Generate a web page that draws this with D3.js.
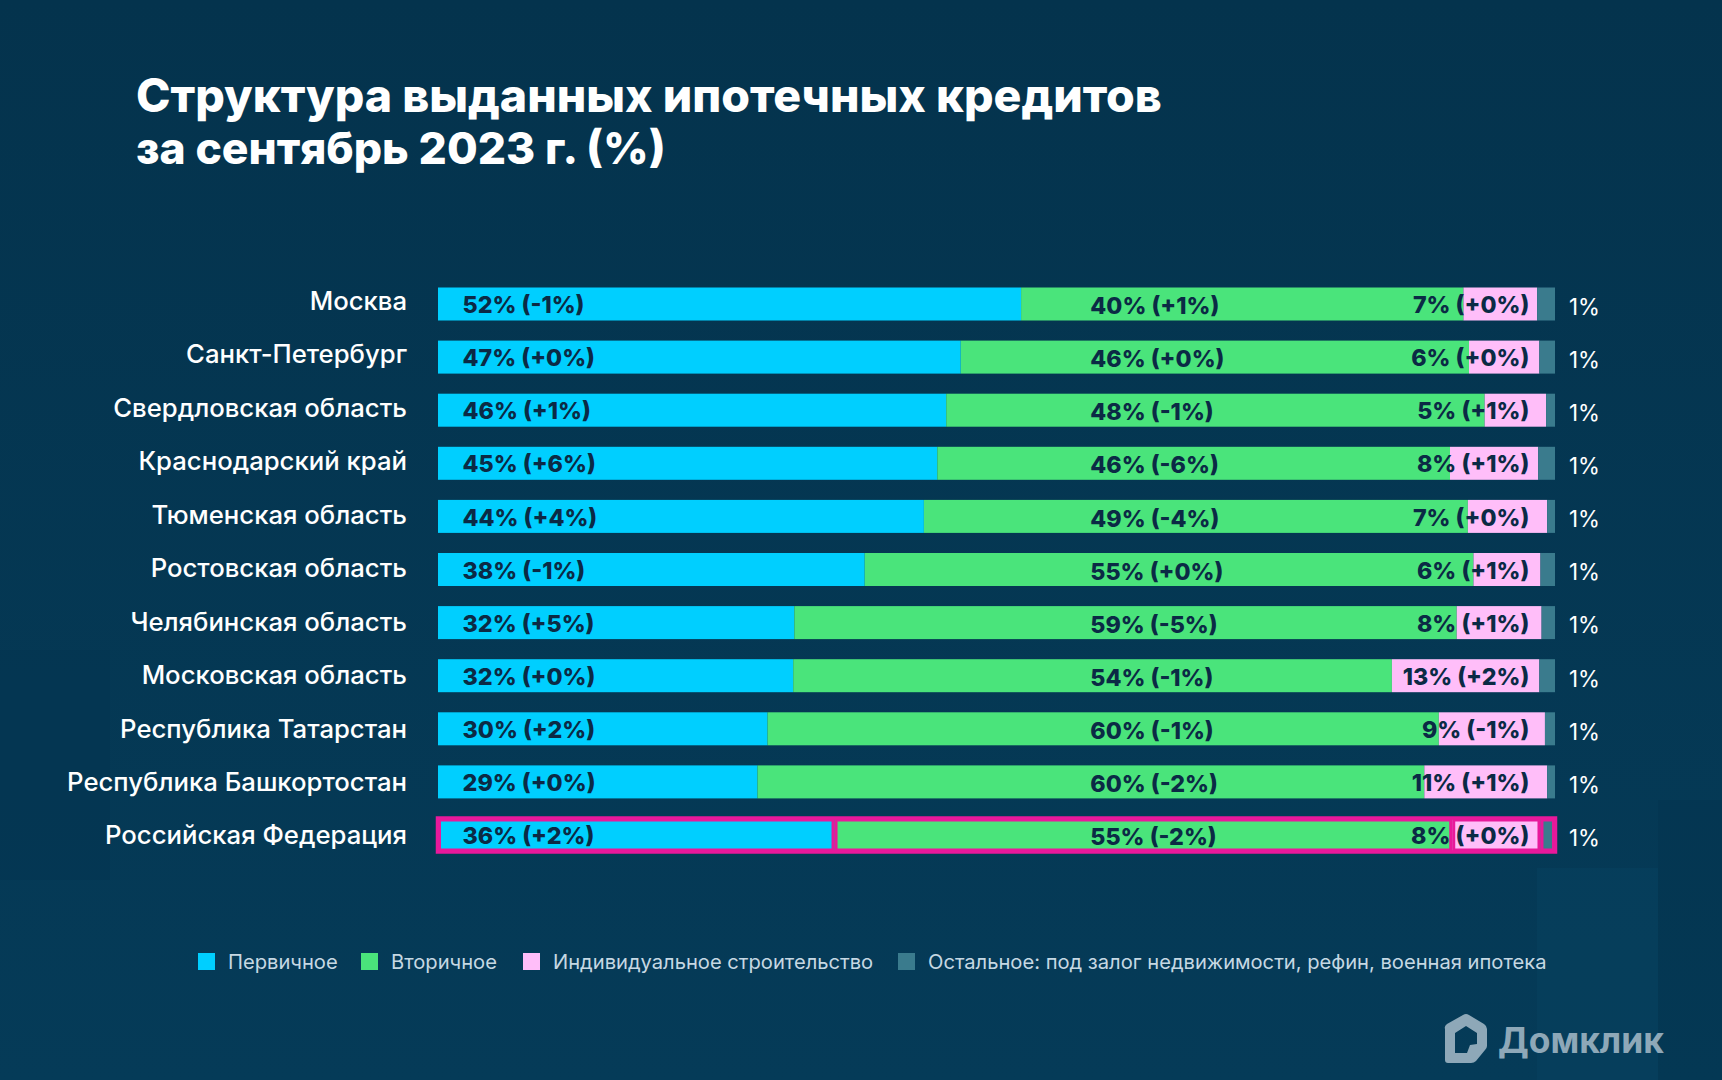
<!DOCTYPE html>
<html>
<head>
<meta charset="utf-8">
<script src="https://cdn.jsdelivr.net/npm/d3@7"></script>
<style>
  html, body { margin: 0; padding: 0; background: #053752; }
  svg { display: block; }
  text { font-family: Inter, "Open Sans", "DejaVu Sans", sans-serif; }
</style>
</head>
<body>
<svg id="chart" width="1722" height="1080"></svg>
<script>
// ---------- DATA ----------
const categories = [
  "Москва", "Санкт-Петербург", "Свердловская область", "Краснодарский край",
  "Тюменская область", "Ростовская область", "Челябинская область",
  "Московская область", "Республика Татарстан", "Республика Башкортостан",
  "Российская Федерация"
];
// shares (%)
const primary    = [52.2, 46.8, 45.5, 44.7, 43.5, 38.2, 31.9, 31.8, 29.5, 28.6, 35.5];
const secondary  = [39.6, 45.5, 48.2, 45.9, 48.7, 54.5, 59.3, 53.6, 60.1, 59.7, 55.3];
const individual = [6.6, 6.3, 5.5, 7.9, 7.1, 6.0, 7.6, 13.2, 9.5, 11.0, 7.9];
const other      = [1.6, 1.4, 0.8, 1.5, 0.7, 1.3, 1.2, 1.4, 0.9, 0.7, 1.3];
// displayed (rounded) values and changes
const primaryShown    = [52, 47, 46, 45, 44, 38, 32, 32, 30, 29, 36];
const primaryChange   = ["-1", "+0", "+1", "+6", "+4", "-1", "+5", "+0", "+2", "+0", "+2"];
const secondaryShown  = [40, 46, 48, 46, 49, 55, 59, 54, 60, 60, 55];
const secondaryChange = ["+1", "+0", "-1", "-6", "-4", "+0", "-5", "-1", "-1", "-2", "-2"];
const individualShown = [7, 6, 5, 8, 7, 6, 8, 13, 9, 11, 8];
const individualChange= ["+0", "+0", "+1", "+1", "+0", "+1", "+1", "+2", "-1", "+1", "+0"];
const otherShown      = [1, 1, 1, 1, 1, 1, 1, 1, 1, 1, 1];
const seriesKeys  = ["primary", "secondary", "individual", "other"];
const legendLabels = ["Первичное", "Вторичное", "Индивидуальное строительство",
  "Остальное: под залог недвижимости, рефин, военная ипотека"];
const titleLines = ["Структура выданных ипотечных кредитов", "за сентябрь 2023 г. (%)"];
const highlighted = "Российская Федерация";

// ---------- STYLE ----------
const colors = { primary: "#00cfff", secondary: "#4ae47b", individual: "#ffbef9", other: "#3a7b8d" };
const darkText = "#0b2a45";
const svg = d3.select("#chart");
const W = 1722, H = 1080;

// background
const defs = svg.append("defs");
const bg = defs.append("linearGradient").attr("id", "bg").attr("x1", 0).attr("y1", 0).attr("x2", 0).attr("y2", 1);
bg.append("stop").attr("offset", "0%").attr("stop-color", "#04334d");
bg.append("stop").attr("offset", "100%").attr("stop-color", "#053b58");
svg.append("rect").attr("width", W).attr("height", H).attr("fill", "url(#bg)");
// faint decorative background shapes
const deco = svg.append("g").attr("opacity", 0.25);
deco.append("rect").attr("x", 0).attr("y", 650).attr("width", 110).attr("height", 230).attr("fill", "#03304a");
deco.append("rect").attr("x", 1537).attr("y", 868).attr("width", 121).attr("height", 212).attr("fill", "#0b4a6a");
deco.append("rect").attr("x", 1658).attr("y", 800).attr("width", 64).attr("height", 280).attr("fill", "#03304a");

// helper: fit font-size so text reaches target width
function fitSize(family, weight, str, target, base) {
  const t = svg.append("text").attr("font-family", family).attr("font-weight", weight)
    .attr("font-size", base).text(str);
  const w = t.node().getComputedTextLength();
  t.remove();
  return base * target / w;
}
const FAM = "Inter";

// ---------- TITLE ----------
const titleTargets = [1026, 530];
svg.append("g").selectAll("text").data(titleLines).join("text")
  .attr("x", 136).attr("y", (d, i) => 112 + i * 52)
  .attr("fill", "#ffffff").attr("font-weight", 800)
  .attr("font-size", (d, i) => fitSize(FAM, 800, d, titleTargets[i], 46))
  .text(d => d);

// ---------- SCALES ----------
const x = d3.scaleLinear().domain([0, 100]).range([438, 1555]);
const y = d3.scalePoint().domain(categories).range([304, 835]);
const barH = 33;

const table = categories.map((c, i) => ({
  category: c, primary: primary[i], secondary: secondary[i],
  individual: individual[i], other: other[i]
}));
const stacked = d3.stack().keys(seriesKeys)(table);

// ---------- ROW LABELS ----------
const rowSize = fitSize(FAM, 500, "Республика Башкортостан", 340, 24);
svg.append("g").selectAll("text").data(categories).join("text")
  .attr("x", 407).attr("y", (d, i) => y(d) - 3 + i * 0.35).attr("dy", "0.35em")
  .attr("text-anchor", "end").attr("fill", "#ffffff")
  .attr("font-weight", 500).attr("font-size", rowSize)
  .text(d => d);

// ---------- BARS ----------
const barsG = svg.append("g");
stacked.forEach(layer => {
  barsG.append("g").selectAll("rect").data(layer).join("rect")
    .attr("x", d => x(d[0]))
    .attr("y", d => y(d.data.category) - barH / 2)
    .attr("width", d => x(d[1]) - x(d[0]))
    .attr("height", barH)
    .attr("fill", colors[layer.key]);
});

// highlight row outlines (magenta)
const hiIdx = categories.indexOf(highlighted);
const hiG = svg.append("g");
stacked.forEach(layer => {
  const d = layer[hiIdx];
  hiG.append("rect")
    .attr("x", x(d[0]) + 1.5).attr("y", y(highlighted) - barH / 2 + 1.5)
    .attr("width", Math.max(0, x(d[1]) - x(d[0]) - 3)).attr("height", barH - 3)
    .attr("fill", "none").attr("stroke", "#e8199b").attr("stroke-width", 3);
});
hiG.append("rect")
  .attr("x", x(0) - 0.5).attr("y", y(highlighted) - barH / 2 - 0.5)
  .attr("width", x(100) - x(0) + 1).attr("height", barH + 1)
  .attr("fill", "none").attr("stroke", "#e8199b").attr("stroke-width", 3.5);

// ---------- VALUE LABELS ----------
const valSize = fitSize(FAM, 800, "52% (-1%)", 122, 24);
const lab = svg.append("g").attr("fill", darkText).attr("font-weight", 800).attr("font-size", valSize);
lab.selectAll("text.p").data(categories).join("text").attr("class", "p")
  .attr("x", x(2.2)).attr("y", d => y(d) + 1).attr("dy", "0.35em")
  .text((d, i) => `${primaryShown[i]}% (${primaryChange[i]}%)`);
lab.selectAll("text.s").data(categories).join("text").attr("class", "s")
  .attr("x", x(58.4)).attr("y", d => y(d) + 2).attr("dy", "0.35em")
  .text((d, i) => `${secondaryShown[i]}% (${secondaryChange[i]}%)`);
lab.selectAll("text.ind").data(categories).join("text").attr("class", "ind")
  .attr("x", x(97.7)).attr("y", d => y(d) + 1).attr("dy", "0.35em")
  .attr("text-anchor", "end")
  .text((d, i) => `${individualShown[i]}% (${individualChange[i]}%)`);

// "other" labels to the right of bars
const othSize = fitSize(FAM, 400, "1%", 31, 24);
svg.append("g").selectAll("text").data(categories).join("text")
  .attr("x", x(100) + 14).attr("y", d => y(d) + 3).attr("dy", "0.35em")
  .attr("fill", "#ffffff").attr("font-weight", 400).attr("font-size", othSize)
  .text((d, i) => `${otherShown[i]}%`);

// ---------- LEGEND ----------
const legSize = fitSize(FAM, 400, legendLabels[3], 619, 19);
const legX = [198, 361, 523, 898];
const leg = svg.append("g");
legendLabels.forEach((l, i) => {
  leg.append("rect").attr("x", legX[i]).attr("y", 953).attr("width", 17).attr("height", 17)
    .attr("fill", colors[seriesKeys[i]]);
  leg.append("text").attr("x", legX[i] + 30).attr("y", 961.5).attr("dy", "0.35em")
    .attr("fill", "#c6d8e3").attr("font-size", legSize).attr("font-weight", 400).text(l);
});

// ---------- LOGO ----------
const logo = svg.append("g").attr("fill", "#8ea8b8");
logo.append("path")
  .attr("fill-rule", "evenodd")
  .attr("d", "M1445,1029 Q1444,1026 1447,1024 L1463,1015 Q1466,1013 1469,1015 L1484,1024 Q1487,1026 1487,1029 L1487,1046 Q1487,1048 1485,1050 L1476,1061 Q1474,1063 1471,1063 L1448,1063 Q1445,1063 1445,1060 Z " +
             "M1455,1033 L1466,1026 L1477,1033 L1477,1044 L1470,1045 L1467,1053 L1455,1053 Z");
const logoSize = fitSize(FAM, 700, "Домклик", 166, 40);
logo.append("text").attr("x", 1498).attr("y", 1053)
  .attr("font-weight", 700).attr("font-size", logoSize).text("Домклик");
</script>
</body>
</html>
